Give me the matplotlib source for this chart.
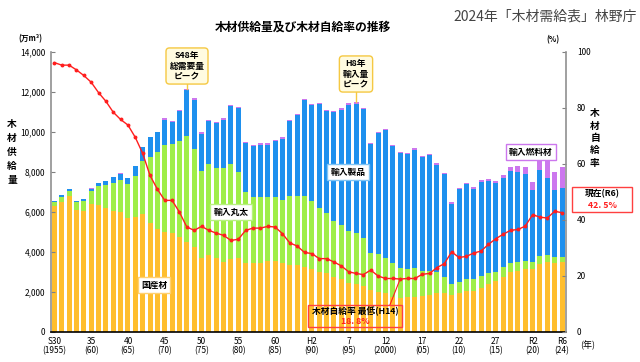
import matplotlib.pyplot as plt
from matplotlib.patches import FancyBboxPatch

plt.rcParams['font.family'] = ['Noto Sans CJK JP', 'DejaVu Sans']

years = list(range(1955, 2025))

# 国産材 (万m3)
domestic = [6285, 6500, 6800, 6090, 6020, 6370, 6335, 6200, 6035, 6000,
            5680, 5730, 5880, 5440, 5118, 5000, 4950, 4710, 4480, 4240,
            3700, 3810, 3680, 3500, 3635, 3700, 3420, 3450, 3450, 3535,
            3535, 3420, 3335, 3318, 3250, 3133, 3000, 2917, 2750, 2617,
            2450, 2385, 2285, 2085, 2000, 1917, 1750, 1700, 1717, 1750,
            1800, 1835, 1950, 1950, 1840, 1910, 2020, 2035, 2200, 2375,
            2520, 2718, 3000, 3040, 3110, 3120, 3385, 3460, 3430, 3500]
# 輸入丸太
logs = [200, 252, 235, 378, 515, 665, 925, 1135, 1380, 1585,
        1687, 2055, 2655, 3310, 3849, 4335, 4418, 4825, 5305, 4878,
        4335, 4558, 4488, 4668, 4733, 4268, 3580, 3300, 3267, 3182,
        3182, 3165, 3450, 3467, 3550, 3402, 3200, 3033, 2785, 2718,
        2600, 2532, 2382, 1865, 1885, 1783, 1667, 1468, 1401, 1418,
        1250, 1215, 1050, 768, 545, 590, 598, 583, 585, 543,
        480, 500, 450, 460, 440, 348, 400, 375, 320, 250]
# 輸入製品
products = [55, 83, 115, 67, 95, 105, 150, 180, 315, 312,
            313, 480, 685, 970, 993, 1273, 1122, 1490, 2290, 2490,
            1873, 2157, 2272, 2440, 2907, 3222, 2440, 2525, 2641, 2641,
            2808, 3073, 3740, 4040, 4775, 4790, 5192, 5075, 5457, 5773,
            6308, 6491, 6458, 5440, 6055, 6375, 5858, 5772, 5772, 5940,
            5675, 5775, 5358, 5172, 4015, 4620, 4752, 4520, 4720, 4620,
            4455, 4487, 4588, 4500, 4318, 3617, 4315, 3865, 3335, 3450]
# 輸入燃料材
fuel = [0, 0, 0, 0, 0, 20, 20, 20, 20, 20,
        20, 20, 30, 30, 40, 60, 60, 60, 60, 60,
        60, 60, 60, 60, 60, 60, 60, 60, 60, 60,
        60, 60, 60, 60, 60, 60, 60, 60, 60, 60,
        60, 60, 60, 60, 60, 60, 60, 60, 60, 60,
        60, 60, 60, 60, 100, 80, 80, 80, 80, 80,
        80, 130, 180, 285, 350, 383, 550, 835, 915, 1018]
# 木材自給率 (%)
rate = [96.1, 95.2, 95.2, 93.5, 91.5, 89.1, 85.4, 82.3, 78.4, 75.8,
        73.8, 69.4, 63.7, 55.8, 50.9, 46.9, 46.9, 42.7, 37.4, 36.2,
        37.6, 36.2, 35.2, 34.4, 32.6, 33.0, 36.2, 37.0, 37.0, 37.6,
        37.4, 35.0, 31.7, 30.6, 28.3, 27.9, 26.1, 26.1, 24.9, 23.5,
        21.4, 20.8, 20.4, 22.0, 19.9, 19.0, 19.0, 18.8, 19.0, 19.0,
        20.5, 20.8, 22.9, 24.3, 28.5, 26.5, 26.9, 28.1, 28.8, 31.2,
        33.2, 34.8, 36.2, 36.5, 37.7, 41.8, 40.9, 40.6, 43.0, 42.5]

tick_years = [1955, 1960, 1965, 1970, 1975, 1980, 1985, 1990, 1995,
              2000, 2005, 2010, 2015, 2020, 2024]
tick_labels = ['S30\n(1955)', '35\n(60)', '40\n(65)', '45\n(70)', '50\n(75)',
               '55\n(80)', '60\n(85)', 'H2\n(90)', '7\n(95)', '12\n(2000)',
               '17\n(05)', '22\n(10)', '27\n(15)', 'R2\n(20)', 'R6\n(24)']

c_dom, c_log, c_prod, c_fuel = '#FFBE2E', '#9FEE48', '#1E90EE', '#CC77EE'

fig = plt.figure(figsize=(6.4, 3.62), dpi=100)
ax = fig.add_axes([0.0792, 0.0837, 0.8047, 0.7735])

w = 0.68
b1 = [d + l for d, l in zip(domestic, logs)]
b2 = [x + p for x, p in zip(b1, products)]
ax.bar(years, domestic, w, color=c_dom, linewidth=0)
ax.bar(years, logs, w, bottom=domestic, color=c_log, linewidth=0)
ax.bar(years, products, w, bottom=b1, color=c_prod, linewidth=0)
ax.bar(years, fuel, w, bottom=b2, color=c_fuel, linewidth=0)

ax.set_xlim(1954.5, 2024.5)
ax.set_ylim(0, 14000)
ax.set_yticks(range(0, 14001, 2000))
ax.set_yticklabels([f'{v:,}' for v in range(0, 14001, 2000)], fontsize=6)
ax.set_xticks(tick_years)
ax.set_xticklabels(tick_labels, fontsize=6, linespacing=1.0)
ax.tick_params(axis='x', length=0, pad=4)
ax.tick_params(axis='y', direction='in', length=3, color='#808080', pad=4)
for s in ['top', 'right']:
    ax.spines[s].set_visible(False)
ax.spines['left'].set_color('#909090')
ax.spines['left'].set_linewidth(1.2)
ax.spines['bottom'].set_linewidth(1.2)

ax2 = ax.twinx()
ax2.plot(years, rate, color='#FF1E1E', lw=1, marker='o', ms=1.8)
ax2.set_ylim(0, 100)
ax2.set_yticks(range(0, 101, 20))
ax2.tick_params(axis='y', direction='in', length=3, color='#808080', labelsize=6, pad=8)
for s in ['top', 'left', 'bottom']:
    ax2.spines[s].set_visible(False)
ax2.spines['right'].set_color('#909090')
ax2.spines['right'].set_linewidth(1.2)


def px(x, y):
    return x / 640, 1 - y / 362


def label(x, y, txt, ec, fc='white', color='black', size=6.3, style='square,pad=0.35'):
    fig.text(*px(x, y), txt, ha='center', va='center', fontsize=size,
             fontweight='bold', color=color, linespacing=1.15,
             bbox=dict(boxstyle=style, fc=fc, ec=ec, lw=1))


fig.text(*px(303, 27), '木材供給量及び木材自給率の推移', ha='center', va='center',
         fontsize=8.5, fontweight='bold')
fig.text(*px(637, 17), '2024年「木材需給表」林野庁', ha='right', va='center',
         fontsize=10, color='#444444')
fig.text(*px(30, 39), '(万m³)', ha='center', va='center', fontsize=5.5, fontweight='bold')
fig.text(*px(553, 40), '(%)', ha='center', va='center', fontsize=5.5, fontweight='bold')
fig.text(*px(580, 345), '(年)', ha='left', va='center', fontsize=6.5)
fig.text(*px(12, 152), '木\n材\n供\n給\n量', ha='center', va='center',
         fontsize=7, fontweight='bold', linespacing=1.5)
fig.text(*px(595, 138), '木\n材\n自\n給\n率', ha='center', va='center',
         fontsize=7, fontweight='bold', linespacing=1.3)

# callouts
ax.plot([1973, 1973], [12585, 12135], color='#F5C842', lw=1)
label(187, 66, 'S48年\n総需要量\nピーク', '#F5C842', fc='#FFFBE0', style='round,pad=0.4')
ax.plot([1996, 1996], [12185, 11468], color='#F5C842', lw=1)
label(356, 74, 'H8年\n輸入量\nピーク', '#F5C842', fc='#FFFBE0', style='round,pad=0.4')

label(531, 152, '輸入燃料材', c_fuel)
label(348, 172, '輸入製品', '#7FC4F5')
label(231, 212, '輸入丸太', '#B8F080')
label(154, 285, '国産材', '#FFD070')

ax2.plot([2000.6, 2002], [9.5, 18.8], color='#FF1E1E', lw=0.8)
fig.text(*px(355, 311), '木材自給率 最低(H14)', ha='center', va='center',
         fontsize=6.3, fontweight='bold')
fig.text(*px(355, 321), '18. 8%', ha='center', va='center',
         fontsize=6.3, fontweight='bold', color='#FF1E1E')
fig.patches.append(FancyBboxPatch(px(308, 327), 94 / 640, 22 / 362, boxstyle='square,pad=0',
                                  transform=fig.transFigure, fc='none', ec='#FF4040', lw=1))

fig.text(*px(602, 194), '現在(R6)', ha='center', va='center', fontsize=6.3, fontweight='bold')
fig.text(*px(602, 205), '42. 5%', ha='center', va='center',
         fontsize=6.3, fontweight='bold', color='#FF1E1E')
fig.patches.append(FancyBboxPatch(px(572, 212), 60 / 640, 25 / 362, boxstyle='square,pad=0',
                                  transform=fig.transFigure, fc='none', ec='#FF4040', lw=1))

fig.savefig('out.png', dpi=100)
